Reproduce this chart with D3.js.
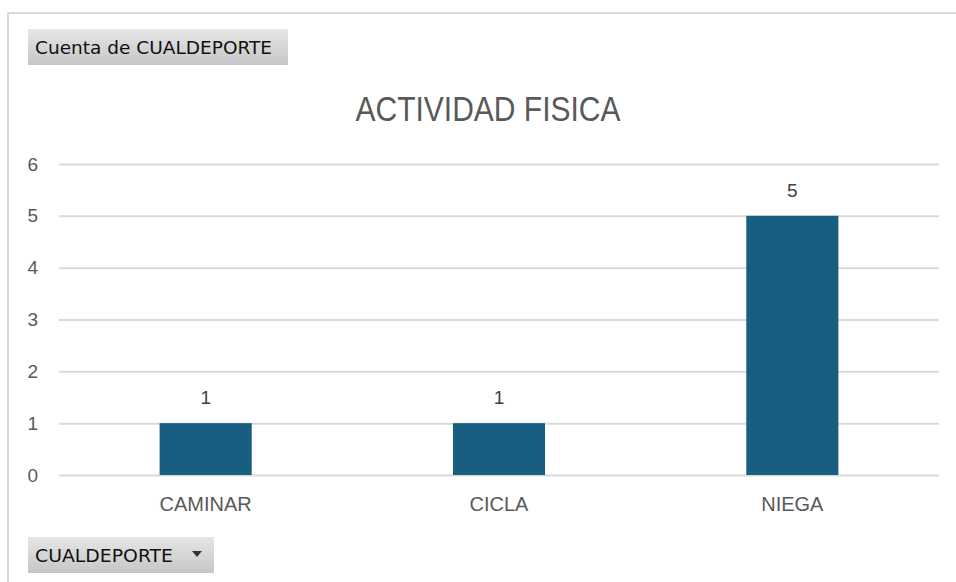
<!DOCTYPE html>
<html>
<head>
<meta charset="utf-8">
<script src="https://cdn.jsdelivr.net/npm/d3@7"></script>
<style>
  html, body { margin: 0; padding: 0; background: #fff; }
  svg { display: block; }
</style>
</head>
<body>
<svg id="chart" width="956" height="582"></svg>
<script>
const categories = ["CAMINAR", "CICLA", "NIEGA"];
const values = [1, 1, 5];
const yTicks = [0, 1, 2, 3, 4, 5, 6];
const title = "ACTIVIDAD FISICA";
const valueFieldLabel = "Cuenta de CUALDEPORTE";
const axisFieldLabel = "CUALDEPORTE";

const svg = d3.select("#chart");
const W = 956, H = 582;
const plot = { left: 59, right: 939, top: 164, bottom: 475 };
const textColor = "#595959";
const font = "'Liberation Sans', Arial, sans-serif";

// gradient for field buttons
const defs = svg.append("defs");
const grad = defs.append("linearGradient").attr("id", "btn").attr("x1", 0).attr("y1", 0).attr("x2", 0).attr("y2", 1);
grad.append("stop").attr("offset", "0%").attr("stop-color", "#e6e6e6");
grad.append("stop").attr("offset", "100%").attr("stop-color", "#c6c6c6");

// chart border (top and left visible)
svg.append("line").attr("x1", 8).attr("x2", W).attr("y1", 13).attr("y2", 13)
  .attr("stroke", "#d9d9d9").attr("stroke-width", 2);
svg.append("line").attr("x1", 8).attr("x2", 8).attr("y1", 12).attr("y2", H)
  .attr("stroke", "#d9d9d9").attr("stroke-width", 2);

const x = d3.scaleBand().domain(categories).range([plot.left, plot.right])
  .paddingInner(0.686).paddingOuter(0.343);
const y = d3.scaleLinear().domain([0, 6]).range([plot.bottom, plot.top]);

// gridlines via axis
const gridAxis = d3.axisLeft(y).tickValues(yTicks).tickSize(-(plot.right - plot.left)).tickFormat("");
const gg = svg.append("g").attr("transform", `translate(${plot.left},0)`).call(gridAxis);
gg.select(".domain").remove();
gg.selectAll(".tick line").attr("stroke", "#d9d9d9").attr("stroke-width", 2);

// y tick labels
const yAxis = d3.axisLeft(y).tickValues(yTicks).tickSize(0).tickPadding(0).tickFormat(d3.format("d"));
const ya = svg.append("g").attr("transform", `translate(38,0)`).call(yAxis);
ya.select(".domain").remove();
ya.selectAll("text").attr("fill", textColor).style("font-family", font).style("font-size", "19px");

// bars
svg.append("g").selectAll("rect").data(values).join("rect")
  .attr("x", (d, i) => x(categories[i]))
  .attr("width", x.bandwidth())
  .attr("y", d => y(d))
  .attr("height", d => y(0) - y(d))
  .attr("fill", "#175e80");

// data labels
svg.append("g").selectAll("text").data(values).join("text")
  .attr("x", (d, i) => x(categories[i]) + x.bandwidth() / 2)
  .attr("y", d => y(d) - 19)
  .attr("text-anchor", "middle")
  .attr("fill", "#404040")
  .style("font-family", font).style("font-size", "19px")
  .text(d => d);

// x axis labels
const xAxis = d3.axisBottom(x).tickSize(0).tickPadding(0);
const xa = svg.append("g").attr("transform", `translate(0,${plot.bottom + 22})`).call(xAxis);
xa.select(".domain").remove();
xa.selectAll("text").attr("fill", textColor).attr("dy", "0.71em")
  .style("font-family", font).style("font-size", "20px");

// title
svg.append("text").attr("x", 488).attr("y", 120.5).attr("text-anchor", "middle")
  .attr("fill", textColor).style("font-family", font).style("font-size", "35px")
  .attr("textLength", 265).attr("lengthAdjust", "spacingAndGlyphs")
  .text(title);

// field buttons
const btnFont = "'DejaVu Sans', Tahoma, Verdana, sans-serif";
svg.append("rect").attr("x", 28).attr("y", 29).attr("width", 260).attr("height", 36).attr("fill", "url(#btn)");
svg.append("text").attr("x", 35).attr("y", 54).attr("fill", "#111")
  .style("font-family", btnFont).style("font-size", "18px")
  .attr("textLength", 237).attr("lengthAdjust", "spacingAndGlyphs")
  .text(valueFieldLabel);

svg.append("rect").attr("x", 28).attr("y", 537).attr("width", 186).attr("height", 36).attr("fill", "url(#btn)");
svg.append("text").attr("x", 35).attr("y", 562).attr("fill", "#111")
  .style("font-family", btnFont).style("font-size", "18px")
  .attr("textLength", 138).attr("lengthAdjust", "spacingAndGlyphs")
  .text(axisFieldLabel);
svg.append("path").attr("d", "M192,551 L202,551 L197,557 Z").attr("fill", "#333");
</script>
</body>
</html>
